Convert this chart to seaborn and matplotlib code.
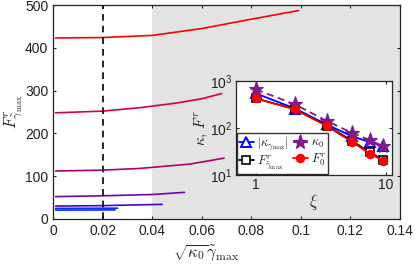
import pandas as pd
import seaborn as sns
import matplotlib
matplotlib.use("Agg")
import matplotlib.pyplot as plt

# main panel: F^r vs sqrt(kappa0)*gamma_max, one curve per xi
c1_x = [0.001, 0.02, 0.04, 0.06, 0.08, 0.099]
c1_y = [423, 424, 429, 445, 467, 487]
c2_x = [0.001, 0.02, 0.035, 0.05, 0.06, 0.068]
c2_y = [248, 252, 260, 271, 281, 293]
c3_x = [0.001, 0.02, 0.035, 0.055, 0.069]
c3_y = [112, 114, 118, 128, 142]
c4_x = [0.001, 0.02, 0.04, 0.053]
c4_y = [52, 54, 57, 62]
c5_x = [0.001, 0.02, 0.044]
c5_y = [30, 31, 34]
c6_x = [0.001, 0.026]
c6_y = [24.5, 25]
c7_x = [0.001, 0.025]
c7_y = [20.5, 21]
curve_colors = ["#ff0000", "#d8003c", "#a8006c", "#7800a8", "#4000d8", "#0a28ff", "#0030ff"]

# inset: values vs xi
xi = [1, 2, 3.5, 5.5, 7.5, 9.5]
kappa_gmax = [540, 258, 118, 66, 50, 41]
kappa_0 = [657, 315, 141, 78, 55, 41]
F_gmax = [423, 250, 112, 53, 30, 21]
F_0 = [422, 246, 110, 50, 28.5, 20]

rows = []
for i, (xs, ys) in enumerate([(c1_x, c1_y), (c2_x, c2_y), (c3_x, c3_y), (c4_x, c4_y),
                              (c5_x, c5_y), (c6_x, c6_y), (c7_x, c7_y)]):
    for a, b in zip(xs, ys):
        rows.append({"x": a, "y": b, "curve": i})
df = pd.DataFrame(rows)

sns.set_style("ticks")
plt.rcParams["font.family"] = ["Liberation Sans", "DejaVu Sans"]
plt.rcParams["mathtext.fontset"] = "cm"
plt.rcParams["axes.linewidth"] = 0.9

fig = plt.figure(figsize=(4.15, 2.65), dpi=100)
ax = fig.add_axes([0.128, 0.174, 0.836, 0.807])
ax.axvspan(0.04, 0.14, color="#e3e3e3", lw=0, zorder=0)
sns.lineplot(data=df, x="x", y="y", hue="curve", palette=curve_colors, estimator=None,
             sort=False, linewidth=1.2, legend=False, ax=ax)
ax.axvline(0.02, color="black", ls=(0, (4, 3)), lw=1.2)
ax.set_xlim(0, 0.14)
ax.set_ylim(0, 500)
ax.set_xticks([0, 0.02, 0.04, 0.06, 0.08, 0.1, 0.12, 0.14])
ax.set_xticklabels(["0", "0.02", "0.04", "0.06", "0.08", "0.1", "0.12", "0.14"])
ax.set_yticks([0, 100, 200, 300, 400, 500])
ax.tick_params(direction="in", top=True, right=True, length=2.5, labelsize=10, colors="#222222")
ax.set_xlabel(r"$\sqrt{\kappa_0}\tilde{\gamma}_{\max}$", fontsize=12, labelpad=0)
ax.set_ylabel(r"$F^r_{\tilde{\gamma}_{\max}}$", fontsize=12, labelpad=0)
ax.xaxis.set_label_coords(0.44, -0.11)
for s in ax.spines.values():
    s.set_color("#222222")

ins = fig.add_axes([0.568, 0.340, 0.376, 0.355])
ins.set_xscale("log")
ins.set_yscale("log")
sns.lineplot(x=xi, y=kappa_gmax, color="#0000ff", marker="^", ms=7, mfc="white", mec="#0000ff",
             mew=1.4, lw=1.3, label=r"$|\kappa_{\gamma_{\max}}|$", ax=ins)
sns.lineplot(x=xi, y=F_gmax, color="black", marker="s", ms=6, mfc="white", mec="black",
             mew=1.2, lw=1.3, label=r"$F^r_{\tilde{\gamma}_{\max}}$", ax=ins)
sns.lineplot(x=xi, y=kappa_0, color="#7f1a8f", marker="*", ms=11, mfc="#7f1a8f", mec="#7f1a8f",
             lw=1.3, ls=(0, (4, 2.5)), label=r"$\kappa_0$", ax=ins)
sns.lineplot(x=xi, y=F_0, color="#ff0000", marker="o", ms=6, mfc="#ff0000", mec="#ff0000",
             lw=1.3, label=r"$F^r_0$", ax=ins)
ins.set_xlim(0.7, 11.1)
ins.set_ylim(10, 1000)
ins.minorticks_off()
ins.set_xticks([1, 10])
ins.set_xticklabels(["1", "10"])
ins.set_yticks([10, 100, 1000])
ins.set_yticklabels([r"$\mathregular{10^1}$", r"$\mathregular{10^2}$", r"$\mathregular{10^3}$"])
ins.tick_params(direction="in", top=True, right=True, length=2, labelsize=10, colors="#222222", pad=2)
ins.set_xlabel(r"$\xi$", fontsize=12, labelpad=0)
ins.set_ylabel(r"$\kappa,\,F^r$", fontsize=11, labelpad=0)
h, l = ins.get_legend_handles_labels()
leg = ins.legend(h, l, ncol=2, loc="lower left", fontsize=9, frameon=True, fancybox=False,
                 edgecolor="black", borderpad=0.15, handlelength=1.2, handletextpad=0.25,
                 columnspacing=0.3, labelspacing=0.05, borderaxespad=0.1)
leg.get_frame().set_linewidth(1.0)

fig.savefig("out.png", dpi=100, facecolor="white")
